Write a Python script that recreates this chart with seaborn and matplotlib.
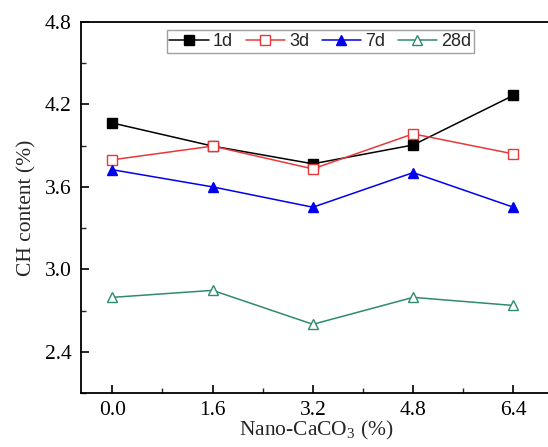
import matplotlib
matplotlib.use("Agg")
import matplotlib.pyplot as plt
import seaborn as sns
import pandas as pd
from matplotlib.ticker import MultipleLocator, FormatStrFormatter

sns.set_theme(style="white")
plt.rcParams['font.family'] = ['Liberation Serif', 'DejaVu Serif']
plt.rcParams['mathtext.fontset'] = 'custom'
plt.rcParams['mathtext.rm'] = 'Liberation Serif'

nano = [0.0, 1.6, 3.2, 4.8, 6.4]
ch_1d = [4.065, 3.897, 3.768, 3.905, 4.266]
ch_3d = [3.797, 3.897, 3.731, 3.986, 3.840]
ch_7d = [3.725, 3.600, 3.452, 3.704, 3.452]
ch_28d = [2.796, 2.847, 2.600, 2.796, 2.737]
series_names = ["1d", "3d", "7d", "28d"]

rows = []
for name, vals in zip(series_names, [ch_1d, ch_3d, ch_7d, ch_28d]):
    for x, v in zip(nano, vals):
        rows.append({"x": x, "y": v, "age": name})
df = pd.DataFrame(rows)

styles = {
    "1d": dict(color="black", marker="s", mfc="black", mec="black"),
    "3d": dict(color="#E8393A", marker="s", mfc="white", mec="#E8393A"),
    "7d": dict(color="#0000EE", marker="^", mfc="#0000EE", mec="#0000EE"),
    "28d": dict(color="#2E8B6E", marker="^", mfc="white", mec="#2E8B6E"),
}

fig = plt.figure(figsize=(5.48, 4.47), dpi=100)
ax = fig.add_axes([81/548, 1 - 393/447, (551-81)/548, (393-22)/447])

for name in series_names:
    s = styles[name]
    sns.lineplot(data=df[df.age == name], x="x", y="y", ax=ax, color=s["color"],
                 marker=s["marker"], markerfacecolor=s["mfc"], markeredgecolor=s["mec"],
                 markersize=7.5, markeredgewidth=1.0, linewidth=1.1, label=name)

ax.set_xlim(-0.5, 7.0)
ax.set_ylim(2.1, 4.8)
ax.set_xticks(nano)
ax.xaxis.set_major_formatter(FormatStrFormatter('%.1f'))
ax.xaxis.set_minor_locator(MultipleLocator(0.8))
ax.set_yticks([2.4, 3.0, 3.6, 4.2, 4.8])
ax.yaxis.set_major_formatter(FormatStrFormatter('%.1f'))
ax.yaxis.set_minor_locator(MultipleLocator(0.3))
ax.tick_params(which='major', direction='in', length=6, width=1.2, labelsize=15.5, colors='black', pad=7)
ax.tick_params(axis='x', which='major', pad=6)
ax.tick_params(which='minor', direction='in', length=3.5, width=1.0)
ax.tick_params(axis='x', which='both', bottom=True, top=False)
ax.tick_params(axis='y', which='both', left=True, right=False)
for sp in ax.spines.values():
    sp.set_color('black')
    sp.set_linewidth(1.3)

ax.set_xlabel(r"Nano-CaCO$_\mathregular{3}$ (%)", fontsize=15.5, labelpad=-1)
ax.set_ylabel("CH content (%)", fontsize=15.5, labelpad=6)

leg = ax.legend(loc='upper center', bbox_to_anchor=(0.509, 0.978), ncol=4, frameon=True,
                fancybox=False, edgecolor='#888888',
                prop={'family': 'Liberation Sans', 'size': 13},
                handlelength=2.2, columnspacing=0.7, handletextpad=0.2,
                borderpad=0.15, borderaxespad=0.0)
leg.get_frame().set_linewidth(1.0)

fig.savefig("out.png", dpi=100, facecolor='white')
